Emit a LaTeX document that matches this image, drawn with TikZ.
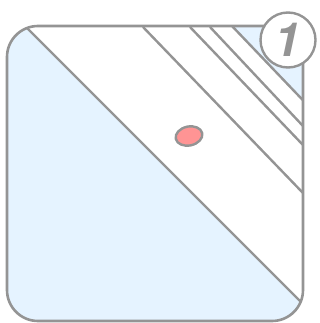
\documentclass[tikz,border=0pt]{standalone}
\usepackage{fontspec}
\setsansfont{TeX Gyre Heros}
\usepackage{xcolor}
\usetikzlibrary{positioning,shapes.geometric}

\definecolor{paleblue}{HTML}{E5F3FF}
\definecolor{rimgray}{HTML}{949494}
\definecolor{dotred}{HTML}{FF9494}

\begin{document}
\begin{tikzpicture}[
  x=1pt, y=-1pt,
  rim/.style={draw=rimgray,line width=2.6pt},
  stripe/.style={draw=rimgray,line width=2.4pt},
  badge/.style={circle,draw=rimgray,line width=2.4pt,fill=white,minimum size=55pt,inner sep=0pt,
    font=\sffamily\itshape\fontsize{47}{47}\selectfont,text=rimgray},
  dot/.style={ellipse,draw=rimgray,line width=2.4pt,fill=dotred,minimum width=27pt,minimum height=19pt,inner sep=0pt,rotate=12}
]
  \useasboundingbox (0,0) rectangle (320,323);

  % stripe ends
  \coordinate (s1a) at (-20,-19);  \coordinate (s1b) at (340,341);
  \coordinate (s2a) at (143,27);   \coordinate (s2b) at (303,193);
  \coordinate (s3a) at (190,27);   \coordinate (s3b) at (303,145);
  \coordinate (s4a) at (210,27);   \coordinate (s4b) at (303,126);
  \coordinate (s5a) at (188,-20);  \coordinate (s5b) at (340,139);

  \begin{scope}
    \clip[rounded corners=31pt] (7,26) rectangle (303,321);
    \fill[paleblue] (0,0) rectangle (320,323);
    \fill[white] (s1a) -- (s1b) -- (s5b) -- (s5a) -- cycle;
    \draw[stripe] (s1a) -- (s1b);
    \draw[stripe] (s2a) -- (s2b);
    \draw[stripe] (s3a) -- (s3b);
    \draw[stripe] (s4a) -- (s4b);
    \draw[stripe] (s5a) -- (s5b);
  \end{scope}
  \draw[rim,rounded corners=31pt] (7,26) rectangle (303,321);

  \node[dot] (spot) at (189,136) {};
  \node[badge] (num) at (288,40) {\bfseries 1};
\end{tikzpicture}
\end{document}
